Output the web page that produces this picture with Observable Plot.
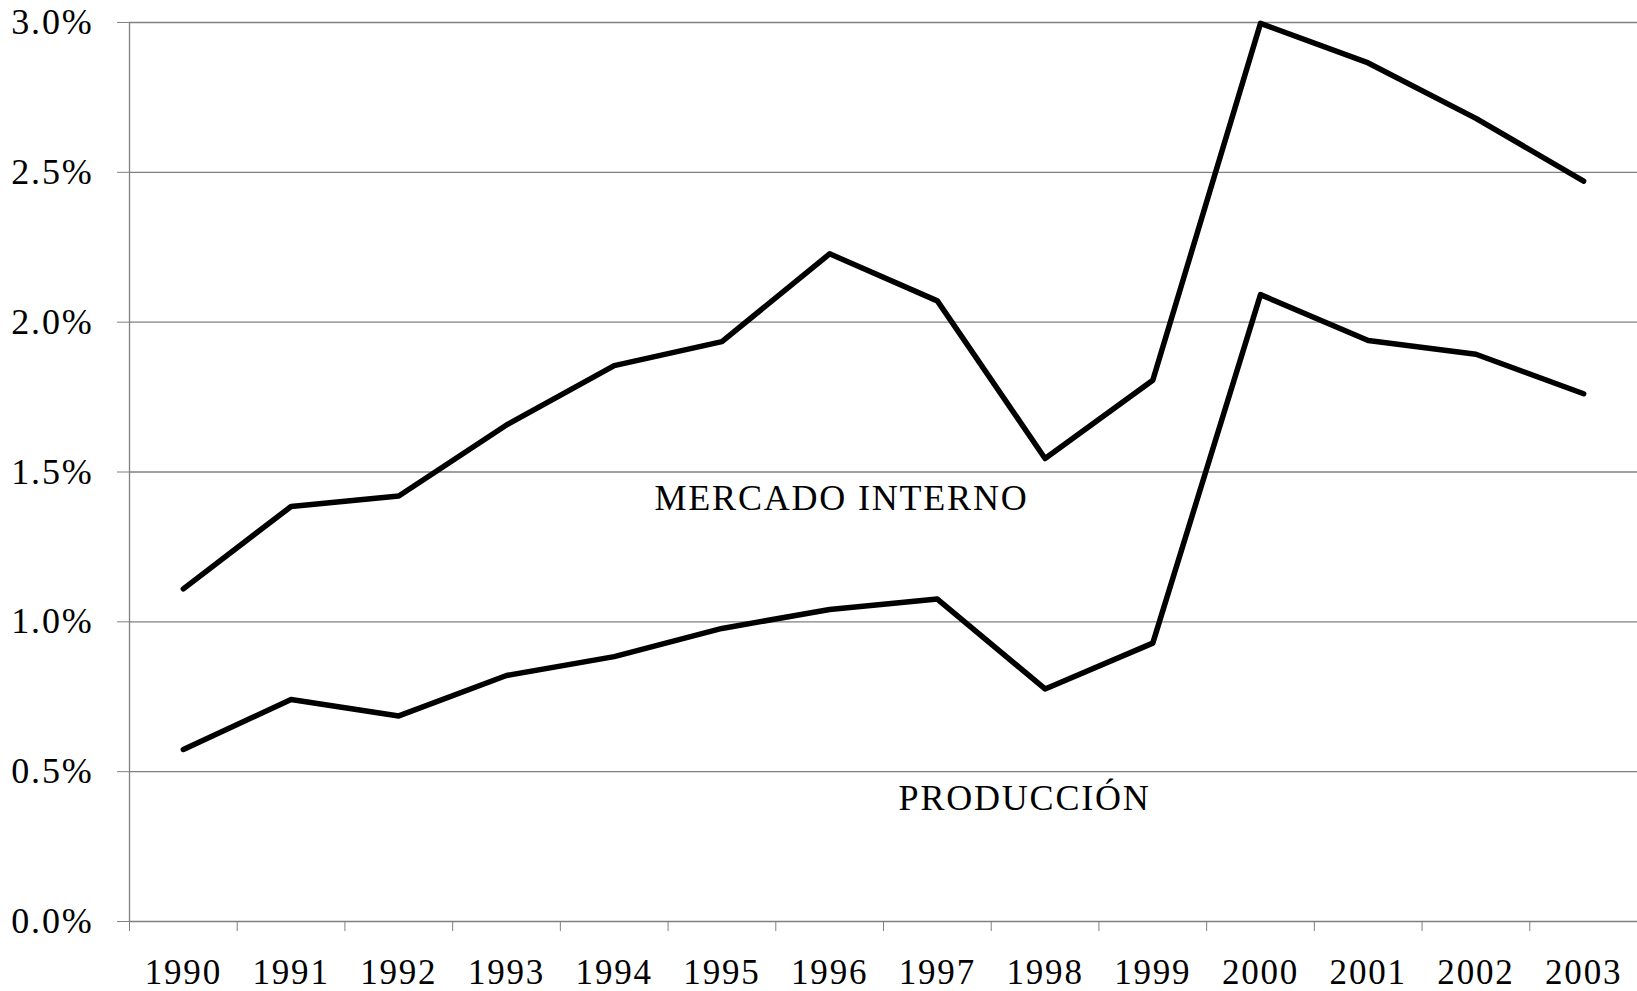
<!DOCTYPE html>
<html>
<head>
<meta charset="utf-8">
<script src="https://cdn.jsdelivr.net/npm/d3@7"></script>
<script src="https://cdn.jsdelivr.net/npm/@observablehq/plot@0.6"></script>
<style>
  html, body { margin: 0; padding: 0; background: #fff; overflow: hidden; }
  svg text { letter-spacing: 1.8px; }
  svg text.series-label { letter-spacing: 2.4px; }
</style>
</head>
<body>
<div id="chart"></div>
<script>
const years = [1990,1991,1992,1993,1994,1995,1996,1997,1998,1999,2000,2001,2002,2003];
const mercadoInterno = [1.110,1.385,1.420,1.657,1.855,1.935,2.228,2.071,1.545,1.806,2.997,2.865,2.680,2.471];
const produccion = [0.574,0.741,0.686,0.821,0.884,0.978,1.041,1.076,0.776,0.929,2.092,1.939,1.893,1.761];
const yTicks = [0,0.5,1.0,1.5,2.0,2.5,3.0];
const seriesLabels = ["MERCADO INTERNO","PRODUCCIÓN"];
const labelYears = [1996.11, 1997.81];
const labelValues = [1.411, 0.41];

const data = [
  ...years.map((y,i)=>({year:y, value:mercadoInterno[i], series:"MERCADO INTERNO"})),
  ...years.map((y,i)=>({year:y, value:produccion[i], series:"PRODUCCIÓN"}))
];
const boundaries = [...years.map(y=>y-0.5), years[years.length-1]+0.5];
const labels = seriesLabels.map((t,i)=>({text:t, year:labelYears[i], value:labelValues[i]}));

const chart = Plot.plot({
  width: 1637,
  height: 991,
  marginLeft: 129,
  marginTop: 22,
  marginBottom: 70,
  marginRight: 0,
  x: {type: "linear", domain: [1989.5, 2003.5]},
  y: {domain: [0, 3]},
  style: {fontFamily: "'Liberation Serif', 'Times New Roman', serif", fontSize: "36px", background: "#fff", color: "#000"},
  marks: [
    Plot.gridY(yTicks.filter(d=>d>0), {stroke: "#808080", strokeOpacity: 1, strokeWidth: 1.3}),
    Plot.axisY(yTicks, {tickSize: 12, tickPadding: 24, tickFormat: d => d.toFixed(1) + "%", stroke: "#808080", fill: "#000", label: null, fontSize: 36}),
    Plot.axisX(boundaries, {tickSize: 10, tickFormat: () => "", stroke: "#808080", label: null}),
    Plot.axisX(years, {tickSize: 0, tickPadding: 38, tickFormat: d => String(d), fill: "#000", label: null, fontSize: 35}),
    Plot.ruleY([0], {stroke: "#808080", strokeWidth: 1.3}),
    Plot.ruleX([1989.5], {stroke: "#808080", strokeWidth: 1.3}),
    Plot.line(data, {x: "year", y: "value", z: "series", stroke: "#000", strokeWidth: 5.5}),
    Plot.text(labels, {x: "year", y: "value", text: "text", fill: "#000", fontSize: 36, textAnchor: "middle", className: "series-label"})
  ]
});
document.getElementById("chart").append(chart);
</script>
</body>
</html>
